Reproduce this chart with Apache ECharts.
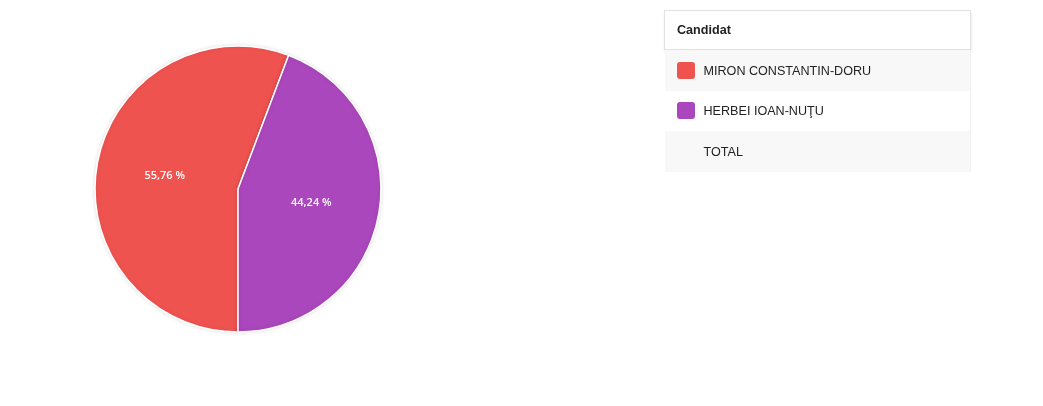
<!DOCTYPE html>
<html>
<head>
<meta charset="utf-8">
<script src="https://cdn.jsdelivr.net/npm/echarts@6/dist/echarts.min.js"></script>
<style>
  html, body { margin: 0; padding: 0; background: #fff; }
  #chart { position: absolute; left: 0; top: 0; width: 1043px; height: 406px; }
  #legend {
    position: absolute; left: 664px; top: 10px; width: 307px;
    border-collapse: collapse; font-family: "Liberation Sans", Arial, sans-serif;
    font-size: 12.6px; color: #222;
  }
  #legend th {
    height: 38px; text-align: left; padding: 0 0 0 12px; font-weight: bold;
    border: 1px solid #e2e2e2; box-shadow: 0 2px 3px rgba(0,0,0,0.14);
    background: #fff;
  }
  #legend td { height: 40.5px; padding: 0; border-right: 1px solid #f0f0f0; }
  #legend tr.odd td { background: #f8f8f8; }
  #legend .sw {
    display: inline-block; width: 17.5px; height: 17px; border-radius: 3px;
    vertical-align: middle; margin: 0 9px 0 12.5px;
  }
  #legend .nosw { display: inline-block; width: 17.5px; margin: 0 9px 0 12.5px; }
  #legend span.t { vertical-align: middle; }
</style>
</head>
<body>
<div id="chart"></div>
<table id="legend"><thead><tr><th>Candidat</th></tr></thead><tbody></tbody></table>
<script>
const candidates = ['MIRON CONSTANTIN-DORU', 'HERBEI IOAN-NUŢU']
const shares = [55.76, 44.24]
const colors = ['#ef5350', '#ab47bc']
const totalLabel = 'TOTAL'

const chart = echarts.init(document.getElementById('chart'))

chart.setOption({
  animation: false,
  series: [{
    type: 'pie',
    center: [238, 189],
    radius: 143,
    startAngle: 270,
    clockwise: true,
    itemStyle: {
      borderColor: '#fff',
      borderWidth: 1.5,
      shadowBlur: 4,
      shadowColor: 'rgba(0,0,0,0.12)'
    },
    label: {
      position: 'inside',
      color: '#fff',
      fontSize: 11,
      fontWeight: 600,
      fontFamily: '"Open Sans", sans-serif',
      formatter: (p) => p.value.toFixed(2).replace('.', ',') + ' %'
    },
    labelLine: { show: false },
    emphasis: { disabled: true },
    data: candidates.map((name, i) => ({
      name,
      value: shares[i],
      itemStyle: { color: colors[i] }
    }))
  }]
})

// legend table rows
const tbody = document.querySelector('#legend tbody')
const rows = candidates.map((name, i) => ({ name, color: colors[i] }))
rows.push({ name: totalLabel, color: null })
rows.forEach((r, i) => {
  const tr = document.createElement('tr')
  if (i % 2 === 0) tr.className = 'odd'
  const sw = r.color
    ? '<span class="sw" style="background:' + r.color + '"></span>'
    : '<span class="nosw"></span>'
  tr.innerHTML = '<td>' + sw + '<span class="t">' + r.name + '</span></td>'
  tbody.appendChild(tr)
})
</script>
</body>
</html>
